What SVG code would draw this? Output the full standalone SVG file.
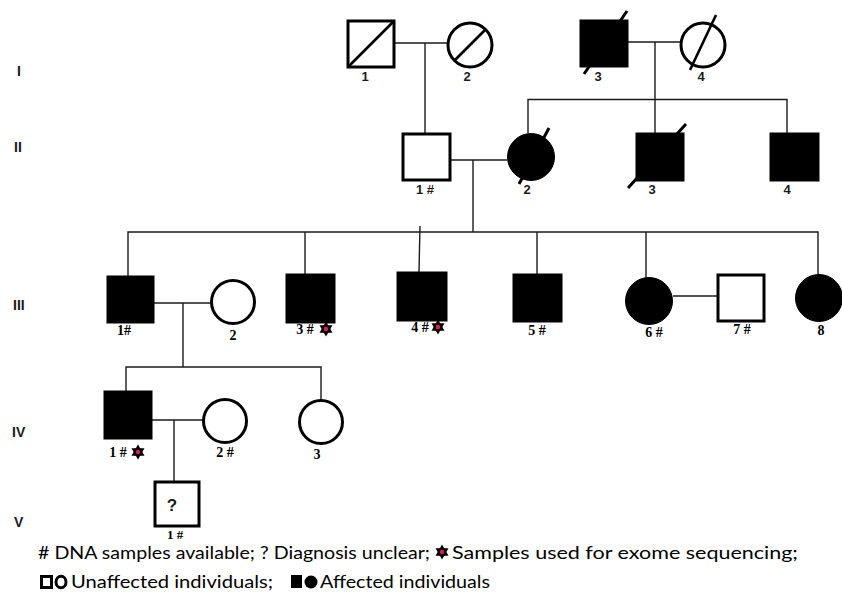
<svg xmlns="http://www.w3.org/2000/svg" xmlns:xlink="http://www.w3.org/1999/xlink" width="842" height="594" viewBox="0 0 842 594">
<style>
.aff{fill:#000;stroke:#000;stroke-width:1}
.unaff{fill:#fff;stroke:#000;stroke-width:3}
.conn{fill:none;stroke:#1a1a1a;stroke-width:1.4}
.slash{stroke:#000;stroke-width:3}
.diag{stroke:#000;stroke-width:2.6}
.ls{font-family:"Liberation Sans",Arial,sans-serif;font-weight:bold;font-size:13px;fill:#1a1a1a;text-anchor:middle}
.lr{font-family:"Liberation Serif","Times New Roman",serif;font-weight:bold;font-size:14px;fill:#000;text-anchor:middle}
.gen{font-family:"Liberation Sans",Arial,sans-serif;font-weight:bold;font-size:14px;fill:#1a1a1a}
.leg{font-family:Lato,"Open Sans",sans-serif;font-size:17px;fill:#000}
</style>
<defs>
<g id="star">
<polygon points="0,-7.5 6.5,3.75 -6.5,3.75" fill="#000"/>
<polygon points="0,7.5 6.5,-3.75 -6.5,-3.75" fill="#000"/>
<circle cx="0" cy="0" r="4.2" fill="#000"/>
<circle cx="0" cy="0" r="2.2" fill="#e8175d"/>
</g>
</defs>
<rect width="842" height="594" fill="#fff"/>

<g id="generation-labels">
<text class="gen" x="17" y="76">I</text>
<text class="gen" x="14" y="152">II</text>
<text class="gen" x="13" y="310">III</text>
<text class="gen" x="12" y="437">IV</text>
<text class="gen" x="14" y="527">V</text>
</g>

<g id="connectors">
<line class="conn" x1="394" y1="43" x2="447" y2="43"/>
<line class="conn" x1="425" y1="43" x2="425" y2="133"/>
<line class="conn" x1="628" y1="42" x2="680" y2="42"/>
<line class="conn" x1="655" y1="42" x2="655" y2="133"/>
<polyline class="conn" points="528,133 528,99.5 787,99.5 787,133"/>
<line class="conn" x1="451" y1="160" x2="507" y2="160"/>
<line class="conn" x1="473" y1="160" x2="473" y2="232"/>
<polyline class="conn" points="128,276 128,232 818,232 818,275"/>
<line class="conn" x1="305" y1="232" x2="305" y2="274"/>
<line class="conn" x1="420" y1="226" x2="419" y2="272"/>
<line class="conn" x1="537" y1="232" x2="537" y2="274"/>
<line class="conn" x1="646" y1="232" x2="646" y2="278"/>
<line class="conn" x1="154" y1="303" x2="211" y2="303"/>
<line class="conn" x1="183" y1="303" x2="183" y2="367"/>
<line class="conn" x1="673" y1="296" x2="717" y2="296"/>
<polyline class="conn" points="126,391 126,367 321,367 321,400"/>
<line class="conn" x1="152" y1="420" x2="203" y2="420"/>
<line class="conn" x1="174" y1="420" x2="174" y2="481"/>
</g>

<g id="I-1">
<rect class="unaff" x="348" y="21" width="46" height="46"/>
<line class="diag" x1="349" y1="66" x2="393" y2="22"/>
<text class="ls" x="365" y="81">1</text>
</g>
<g id="I-2">
<circle class="unaff" cx="470" cy="45" r="22"/>
<line class="diag" x1="454" y1="61" x2="486" y2="29"/>
<text class="ls" x="467" y="81">2</text>
</g>
<g id="I-3">
<rect class="aff" x="580" y="20" width="48" height="47"/>
<line class="slash" x1="584" y1="74" x2="627" y2="11"/>
<text class="ls" x="598" y="81">3</text>
</g>
<g id="I-4">
<circle class="unaff" cx="703" cy="45" r="22"/>
<line class="diag" x1="690" y1="70" x2="716" y2="15"/>
<text class="ls" x="701" y="81">4</text>
</g>

<g id="II-1">
<rect class="unaff" x="403" y="134" width="47" height="46"/>
<text class="ls" x="425" y="194">1 #</text>
</g>
<g id="II-2">
<circle class="aff" cx="531" cy="157" r="23.5"/>
<line class="slash" x1="519" y1="184" x2="549" y2="128"/>
<text class="ls" x="527" y="194">2</text>
</g>
<g id="II-3">
<rect class="aff" x="636" y="133" width="48" height="48"/>
<line class="slash" x1="628" y1="188" x2="686" y2="124"/>
<text class="ls" x="652" y="194">3</text>
</g>
<g id="II-4">
<rect class="aff" x="770" y="133" width="49" height="48"/>
<text class="ls" x="787" y="194">4</text>
</g>

<g id="III-1">
<rect class="aff" x="107" y="276" width="47" height="47"/>
<text class="lr" x="124" y="335">1#</text>
</g>
<g id="III-2">
<circle class="unaff" cx="233" cy="302" r="21.5"/>
<text class="lr" x="233" y="340">2</text>
</g>
<g id="III-3">
<rect class="aff" x="286" y="274" width="49" height="49"/>
<text class="lr" x="305" y="334">3 #</text>
<use xlink:href="#star" href="#star" x="326" y="329"/>
</g>
<g id="III-4">
<rect class="aff" x="397" y="272" width="50" height="49"/>
<text class="lr" x="420" y="332">4 #</text>
<use xlink:href="#star" href="#star" x="438" y="327"/>
</g>
<g id="III-5">
<rect class="aff" x="513" y="274" width="49" height="48"/>
<text class="lr" x="537" y="335">5 #</text>
</g>
<g id="III-6">
<circle class="aff" cx="649" cy="301" r="23.5"/>
<text class="lr" x="654" y="337">6 #</text>
</g>
<g id="III-7">
<rect class="unaff" x="718" y="275" width="46" height="46"/>
<text class="lr" x="742" y="334">7 #</text>
</g>
<g id="III-8">
<circle class="aff" cx="819" cy="298" r="23.5"/>
<text class="lr" x="821" y="335">8</text>
</g>

<g id="IV-1">
<rect class="aff" x="104" y="391" width="48" height="48"/>
<text class="lr" x="118" y="457">1 #</text>
<use xlink:href="#star" href="#star" x="138" y="452"/>
</g>
<g id="IV-2">
<circle class="unaff" cx="225" cy="421" r="21.5"/>
<text class="lr" x="225" y="457">2 #</text>
</g>
<g id="IV-3">
<circle class="unaff" cx="321" cy="422" r="21.5"/>
<text class="lr" x="317" y="459">3</text>
</g>

<g id="V-1">
<rect class="unaff" x="155" y="482" width="44" height="44"/>
<text class="ls" x="172" y="511" style="font-size:17px">?</text>
<text class="lr" x="175" y="539" style="font-size:13px">1 #</text>
</g>

<g id="legend">
<text class="leg" x="38" y="559" textLength="392" lengthAdjust="spacingAndGlyphs"># DNA samples available; ? Diagnosis unclear;</text>
<use xlink:href="#star" href="#star" x="442" y="552"/>
<text class="leg" x="452" y="559" textLength="346" lengthAdjust="spacingAndGlyphs">Samples used for exome sequencing;</text>
<rect x="41.5" y="576.5" width="10" height="11" fill="#fff" stroke="#000" stroke-width="3"/>
<ellipse cx="61" cy="582" rx="5" ry="5.8" fill="#fff" stroke="#000" stroke-width="3"/>
<text class="leg" x="71" y="588" textLength="202" lengthAdjust="spacingAndGlyphs">Unaffected individuals;</text>
<rect x="291" y="575" width="11" height="13" fill="#000"/>
<circle cx="311" cy="582" r="6.5" fill="#000"/>
<text class="leg" x="320" y="588" textLength="170" lengthAdjust="spacingAndGlyphs">Affected individuals</text>
</g>
</svg>
